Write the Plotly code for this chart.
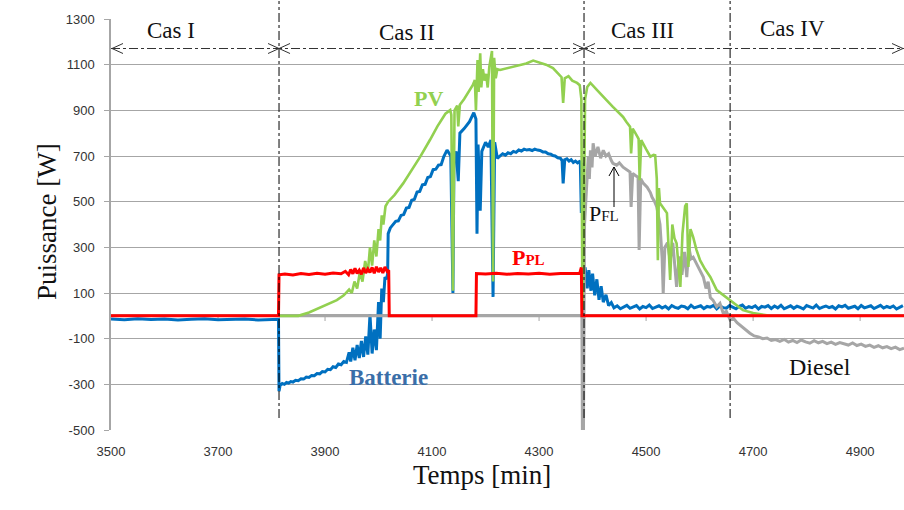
import plotly.graph_objects as go

# ---------------- data ----------------
ppl_t = [3500, 3813, 3814, 3825, 3840, 3855, 3870, 3885, 3900, 3915, 3930, 3938, 3944, 3948, 3952,
         3956, 3960, 3964, 3968, 3972, 3976, 3980, 3984, 3988, 3992, 3996, 4000, 4004, 4008, 4012,
         4016, 4019, 4020, 4182, 4183, 4200, 4220, 4240, 4260, 4280, 4300, 4320, 4340, 4360, 4376,
         4379, 4380, 4400, 4982]
ppl_y = [0, 0, 180, 183, 179, 185, 181, 186, 182, 188, 184, 195, 180, 203, 184, 208, 186, 200,
         182, 210, 188, 205, 190, 212, 186, 215, 192, 210, 188, 214, 195, 200, 0, 0, 185, 183,
         186, 182, 185, 183, 186, 182, 185, 184, 186, 212, 0, 0, 0]

# battery power, by segment
bat_a_t = [3500, 3525, 3550, 3575, 3600, 3625, 3650, 3675, 3700, 3725, 3750, 3775, 3800, 3813]
bat_a_y = [-14, -17, -13, -16, -14, -18, -15, -13, -17, -15, -14, -18, -16, -15]
bat_b_t = [3814, 3816, 3820, 3824, 3828, 3832, 3836, 3840, 3845, 3850, 3855, 3860, 3865, 3870,
           3875, 3880, 3885, 3890, 3895, 3900, 3905, 3910, 3915, 3920, 3925, 3930, 3935, 3940]
bat_b_y = [-330, -305, -296, -300, -292, -295, -288, -290, -282, -284, -276, -277, -268, -270,
           -261, -262, -253, -254, -244, -246, -234, -236, -223, -226, -211, -214, -200, -204]
bat_c_t = [3945, 3948, 3952, 3956, 3960, 3964, 3968, 3972, 3976, 3980, 3984, 3988, 3992, 3996,
           4000, 4003, 4006, 4009, 4012, 4015, 4017]
bat_c_y = [-160, -200, -140, -195, -128, -185, -110, -180, -90, -170, 5, -165, -60, -150,
           60, -100, 120, 60, 170, 160, 185]
bat_d_t = [4018, 4022, 4027, 4032, 4037, 4042, 4047, 4052, 4057, 4062, 4067, 4072, 4077, 4082,
           4087, 4092, 4097, 4102, 4107, 4112, 4117, 4122, 4128]
bat_d_y = [360, 385, 398, 414, 416, 440, 444, 472, 475, 506, 510, 542, 545, 574,
           576, 606, 610, 640, 642, 660, 662, 698, 726]
bat_e_t = [4135, 4139, 4141, 4145, 4149, 4152, 4160, 4170, 4178, 4182, 4184, 4186, 4190, 4193,
           4196, 4200, 4205, 4210, 4214, 4217, 4222]
bat_e_y = [700, 100, 690, 720, 590, 800, 820, 850, 890, 862, 360, 750, 460, 720,
           740, 760, 740, 770, 83, 760, 690]
bat_f_t = [4227, 4232, 4237, 4242, 4247, 4252, 4257, 4262, 4267, 4272, 4277, 4282, 4287, 4292,
           4297, 4302, 4307, 4312, 4317, 4322, 4326, 4330, 4335, 4340, 4343, 4345, 4348, 4352,
           4356, 4360, 4364, 4368, 4372, 4377, 4379, 4381]
bat_f_y = [700, 710, 704, 714, 710, 720, 716, 726, 722, 730, 726, 728, 724, 730,
           726, 724, 718, 718, 710, 708, 702, 700, 692, 690, 680, 580, 684, 688,
           678, 684, 672, 678, 670, 678, 450, 670]
bat_g_t = [4383, 4386, 4390, 4393, 4397, 4400, 4404, 4408, 4412, 4416, 4420, 4425, 4430, 4435]
bat_g_y = [200, 212, 120, 200, 110, 185, 90, 160, 70, 130, 60, 92, 45, 58]
# steady battery power, sampled every 6 min from 4440 to 4980
bat_h_t = list(range(4440, 4981, 6))
bat_h_y = [35, 44, 31, 40, 46, 33, 38, 45, 30, 41, 36, 47, 32, 39, 44, 34, 42, 30, 45, 37,
           33, 43, 40, 31, 46, 35, 39, 44, 32, 41,
           38, 46, 30, 43, 36, 34, 45, 39, 31, 42, 47, 33, 40, 36, 44, 30, 41, 38, 45, 32,
           43, 35, 46, 31, 39, 44, 33, 42, 37, 30,
           45, 40, 34, 47, 32, 38, 43, 36, 41, 30, 44, 39, 46, 33, 37, 42, 31, 45, 35, 40,
           44, 32, 38, 46, 34, 41, 36, 43, 30, 39, 45]

pv_t = [3814, 3850, 3870, 3890, 3910, 3922, 3935, 3945, 3950, 3955, 3960, 3965, 3970, 3975, 3980,
        3984, 3988, 3992, 3996, 4000, 4003, 4006, 4009, 4013, 4018, 4030, 4046, 4060, 4078, 4096,
        4110, 4125, 4134, 4136, 4139, 4142, 4147, 4149, 4152, 4160, 4171, 4176, 4180, 4182, 4185,
        4187, 4190, 4192, 4195, 4198, 4201, 4204, 4207, 4210, 4212, 4214, 4216, 4219, 4222, 4227,
        4240, 4252, 4264, 4276, 4289, 4300, 4313, 4326, 4335, 4342, 4345, 4348, 4355, 4362, 4371,
        4376, 4379, 4381, 4383, 4386, 4390, 4396, 4408, 4420, 4430, 4438, 4448, 4457, 4463, 4470,
        4472, 4475, 4480, 4486, 4488, 4491, 4500, 4508, 4514, 4517, 4520, 4522, 4524, 4526, 4533,
        4539, 4542, 4545, 4549, 4553, 4557, 4561, 4564, 4568, 4573, 4576, 4579, 4583, 4588, 4594,
        4601, 4610, 4620, 4632, 4645, 4657, 4670, 4681, 4700, 4720, 4732]
pv_y = [0, 0, 15, 35, 55, 69, 90, 115, 100, 150, 120, 190, 150, 240, 190,
        300, 220, 330, 260, 380, 330, 440, 400, 480, 500, 530, 580, 630, 697, 770,
        830, 885, 901, 880, 110, 900, 921, 830, 925, 950, 989, 1010, 1033, 900, 1120,
        980, 1150, 1000, 1080, 1030, 1060, 1000, 1090, 1140, 1160, 150, 1130, 1040, 1080, 1077,
        1085, 1092, 1098, 1105, 1118, 1110, 1100, 1085, 1065, 1045, 932, 1040, 1050, 1030, 1020,
        1010, 950, 30, 250, 950, 1002, 1020, 990, 958, 935, 915, 890, 871, 850, 828,
        711, 820, 800, 775, 594, 770, 730, 697, 705, 703, 600, 243, 560, 493, 470,
        450, 300, 157, 400, 340, 318, 200, 127, 360, 480, 493, 214, 380, 345, 290,
        243, 205, 170, 113, 90, 69, 45, 25, 12, 4, 0]

pfl_t = [3814, 4380, 4381, 4383, 4385, 4388, 4392, 4394, 4396, 4399, 4401, 4405, 4410, 4415, 4420,
         4425, 4430, 4435, 4438, 4445, 4450, 4457, 4463, 4470, 4472, 4475, 4480, 4485, 4487, 4490,
         4495, 4502, 4508, 4511, 4516, 4520, 4526, 4530, 4532, 4535, 4540, 4545, 4550, 4554, 4557,
         4562, 4567, 4572, 4576, 4580, 4584, 4588, 4594, 4600, 4607, 4612, 4616, 4620, 4625, 4632,
         4638, 4644, 4650, 4657, 4663, 4670, 4680]
pfl_y = [0, 0, -500, -500, 400, 550, 700, 600, 725, 650, 756, 700, 740, 690, 725,
         700, 710, 680, 668, 660, 670, 651, 640, 630, 477, 624, 615, 607, 288, 600,
         580, 563, 540, 520, 500, 477, 400, 250, 98, 300, 320, 243, 320, 200, 127,
         260, 180, 280, 170, 300, 250, 257, 230, 200, 170, 120, 150, 80, 69, 40,
         55, 12, 20, -18, -10, -30, -50]
# diesel power, sampled every 8 min from 4694 to 4982
diesel_t = list(range(4694, 4983, 8))
diesel_y = [-76, -88, -92, -100, -97, -108, -104, -112, -103, -115, -108, -117, -106, -114, -120,
            -109, -118, -112, -122, -115, -125, -117, -121, -128, -119, -130, -124, -134, -128,
            -138, -131, -140, -135, -144, -137, -148, -142]

case_bounds = [3814, 4384, 4657]
case_labels = ["Cas I", "Cas II", "Cas III", "Cas IV"]
x_ticks = [3500, 3700, 3900, 4100, 4300, 4500, 4700, 4900]
y_ticks = [-500, -300, -100, 100, 300, 500, 700, 900, 1100, 1300]

bat_t = bat_a_t + bat_b_t + bat_c_t + bat_d_t + bat_e_t + bat_f_t + bat_g_t + bat_h_t
bat_y = bat_a_y + bat_b_y + bat_c_y + bat_d_y + bat_e_y + bat_f_y + bat_g_y + bat_h_y

# ---------------- figure ----------------
W, H = 904, 510
ML, MR, MT, MB = 111, 0, 19, 80
X0, X1 = 3500, 4982
Y0, Y1 = -500, 1300
pw, ph = W - ML - MR, H - MT - MB


def xd(px):  # pixel -> data x (for decorations only)
    return X0 + (px - ML) * (X1 - X0) / pw


def yd(py):  # pixel -> data y (for decorations only)
    return Y1 - (py - MT) * (Y1 - Y0) / ph


def yp(py):  # pixel -> paper y
    return 1 - (py - MT) / ph


def xp(px):  # pixel -> paper x
    return (px - ML) / pw


BLUE, GREEN, RED, GRAY = "#0070C0", "#92D050", "#FF0000", "#A6A6A6"
SERIF = "Liberation Serif, Times New Roman, serif"

fig = go.Figure()
fig.add_trace(go.Scatter(x=bat_t, y=bat_y, mode="lines",
                         line=dict(color=BLUE, width=3), name="Batterie"))
fig.add_trace(go.Scatter(x=pfl_t + diesel_t, y=pfl_y + diesel_y, mode="lines",
                         line=dict(color=GRAY, width=3), name="PFL / Diesel"))
fig.add_trace(go.Scatter(x=pv_t, y=pv_y, mode="lines", line=dict(color=GREEN, width=2.6), name="PV"))
fig.add_trace(go.Scatter(x=ppl_t, y=ppl_y, mode="lines", line=dict(color=RED, width=3), name="PPL"))

shapes = []
# tick marks on the zero line
for t in x_ticks[1:]:
    shapes.append(dict(type="line", xref="x", yref="y", x0=t, x1=t, y0=yd(316 + 5), y1=yd(316 - 1),
                       line=dict(color=GRAY, width=1), layer="below"))
# vertical dash-dot case boundaries
for b in case_bounds:
    shapes.append(dict(type="line", xref="x", yref="paper", x0=b, x1=b, y0=yp(418), y1=yp(1),
                       line=dict(color="#000000", width=1, dash="dashdot")))
# horizontal double arrow line
ya = 48.5
shapes.append(dict(type="line", xref="paper", yref="paper", x0=0, x1=1, y0=yp(ya), y1=yp(ya),
                   line=dict(color="#333333", width=1, dash="dashdot")))


def head(px, direction):
    # open arrow head with tip at pixel px, opening towards direction (-1 left, +1 right)
    d = 11 * direction
    path = "M {x1},{y1} L {x0},{y0} L {x2},{y2}".format(
        x1=xd(px + d), y1=yd(ya - 5), x0=xd(px), y0=yd(ya), x2=xd(px + d), y2=yd(ya + 5))
    return dict(type="path", xref="x", yref="y", path=path, line=dict(color="#333333", width=1))


shapes.append(head(112, +1))
shapes.append(head(903, -1))
for b in case_bounds[:2]:
    bp = ML + (b - X0) * pw / (X1 - X0)
    shapes.append(head(bp, +1))
    shapes.append(head(bp, -1))

# PFL pointer arrow
shapes.append(dict(type="line", xref="x", yref="y", x0=xd(614), x1=xd(614), y0=yd(207), y1=yd(167),
                   line=dict(color="#000000", width=1)))
shapes.append(dict(type="path", xref="x", yref="y",
                   path="M {a},{b} L {c},{d} L {e},{f}".format(a=xd(609), b=yd(176), c=xd(614), d=yd(167),
                                                               e=xd(619), f=yd(176)),
                   line=dict(color="#000000", width=1)))

ann = []
case_pos = [(171, 30), (407, 32), (642, 30), (792, 28)]
for lab, (px, py) in zip(case_labels, case_pos):
    ann.append(dict(text=lab, x=xd(px), y=yd(py), xref="x", yref="y", showarrow=False,
                    font=dict(family=SERIF, size=23, color="#111111")))
ann.append(dict(text="<b>PV</b>", x=xd(428), y=yd(98), xref="x", yref="y", showarrow=False,
                font=dict(family=SERIF, size=22, color=GREEN)))
ann.append(dict(text="<b>Batterie</b>", x=xd(388), y=yd(377), xref="x", yref="y", showarrow=False,
                font=dict(family=SERIF, size=23, color="#3A6EA8")))
ann.append(dict(text="<b>P<span style='font-size:15px'>PL</span></b>", x=xd(528), y=yd(257),
                xref="x", yref="y", showarrow=False, font=dict(family=SERIF, size=22, color=RED)))
ann.append(dict(text="P<span style='font-size:15px'>FL</span>", x=xd(604), y=yd(213),
                xref="x", yref="y", showarrow=False, font=dict(family=SERIF, size=22, color="#111111")))
ann.append(dict(text="Diesel", x=xd(820), y=yd(367), xref="x", yref="y", showarrow=False,
                font=dict(family=SERIF, size=24, color="#111111")))
ann.append(dict(text="Temps [min]", x=xd(482), y=yp(492), xref="x", yref="paper", showarrow=False,
                font=dict(family=SERIF, size=27, color="#111111")))
ann.append(dict(text="Puissance [W]", x=xp(30), y=yp(222), xref="paper", yref="paper", showarrow=False,
                textangle=-90, font=dict(family=SERIF, size=27, color="#111111")))

fig.update_layout(
    width=W, height=H, margin=dict(l=ML, r=MR, t=MT, b=MB),
    paper_bgcolor="white", plot_bgcolor="white", showlegend=False,
    shapes=shapes, annotations=ann,
    xaxis=dict(range=[X0, X1], tickvals=x_ticks, ticktext=[str(v) for v in x_ticks],
               showgrid=False, zeroline=False, showline=False, ticks="",
               ticklabelstandoff=12,
               tickfont=dict(family="Liberation Sans, Arial, sans-serif", size=13, color="#333333")),
    yaxis=dict(range=[Y0, Y1], tickvals=y_ticks, ticktext=[str(v) for v in y_ticks],
               showgrid=True, gridcolor="#A6A6A6", gridwidth=1,
               zeroline=True, zerolinecolor=GRAY, zerolinewidth=2.5,
               showline=True, linecolor=GRAY, linewidth=1.5,
               ticks="outside", ticklen=5, tickcolor=GRAY, ticklabelstandoff=7,
               tickfont=dict(family="Liberation Sans, Arial, sans-serif", size=13, color="#333333")),
)

fig.write_html("out.html", config={"displayModeBar": False},
               post_script="document.body.style.margin='0px';document.body.style.overflow='hidden';")
